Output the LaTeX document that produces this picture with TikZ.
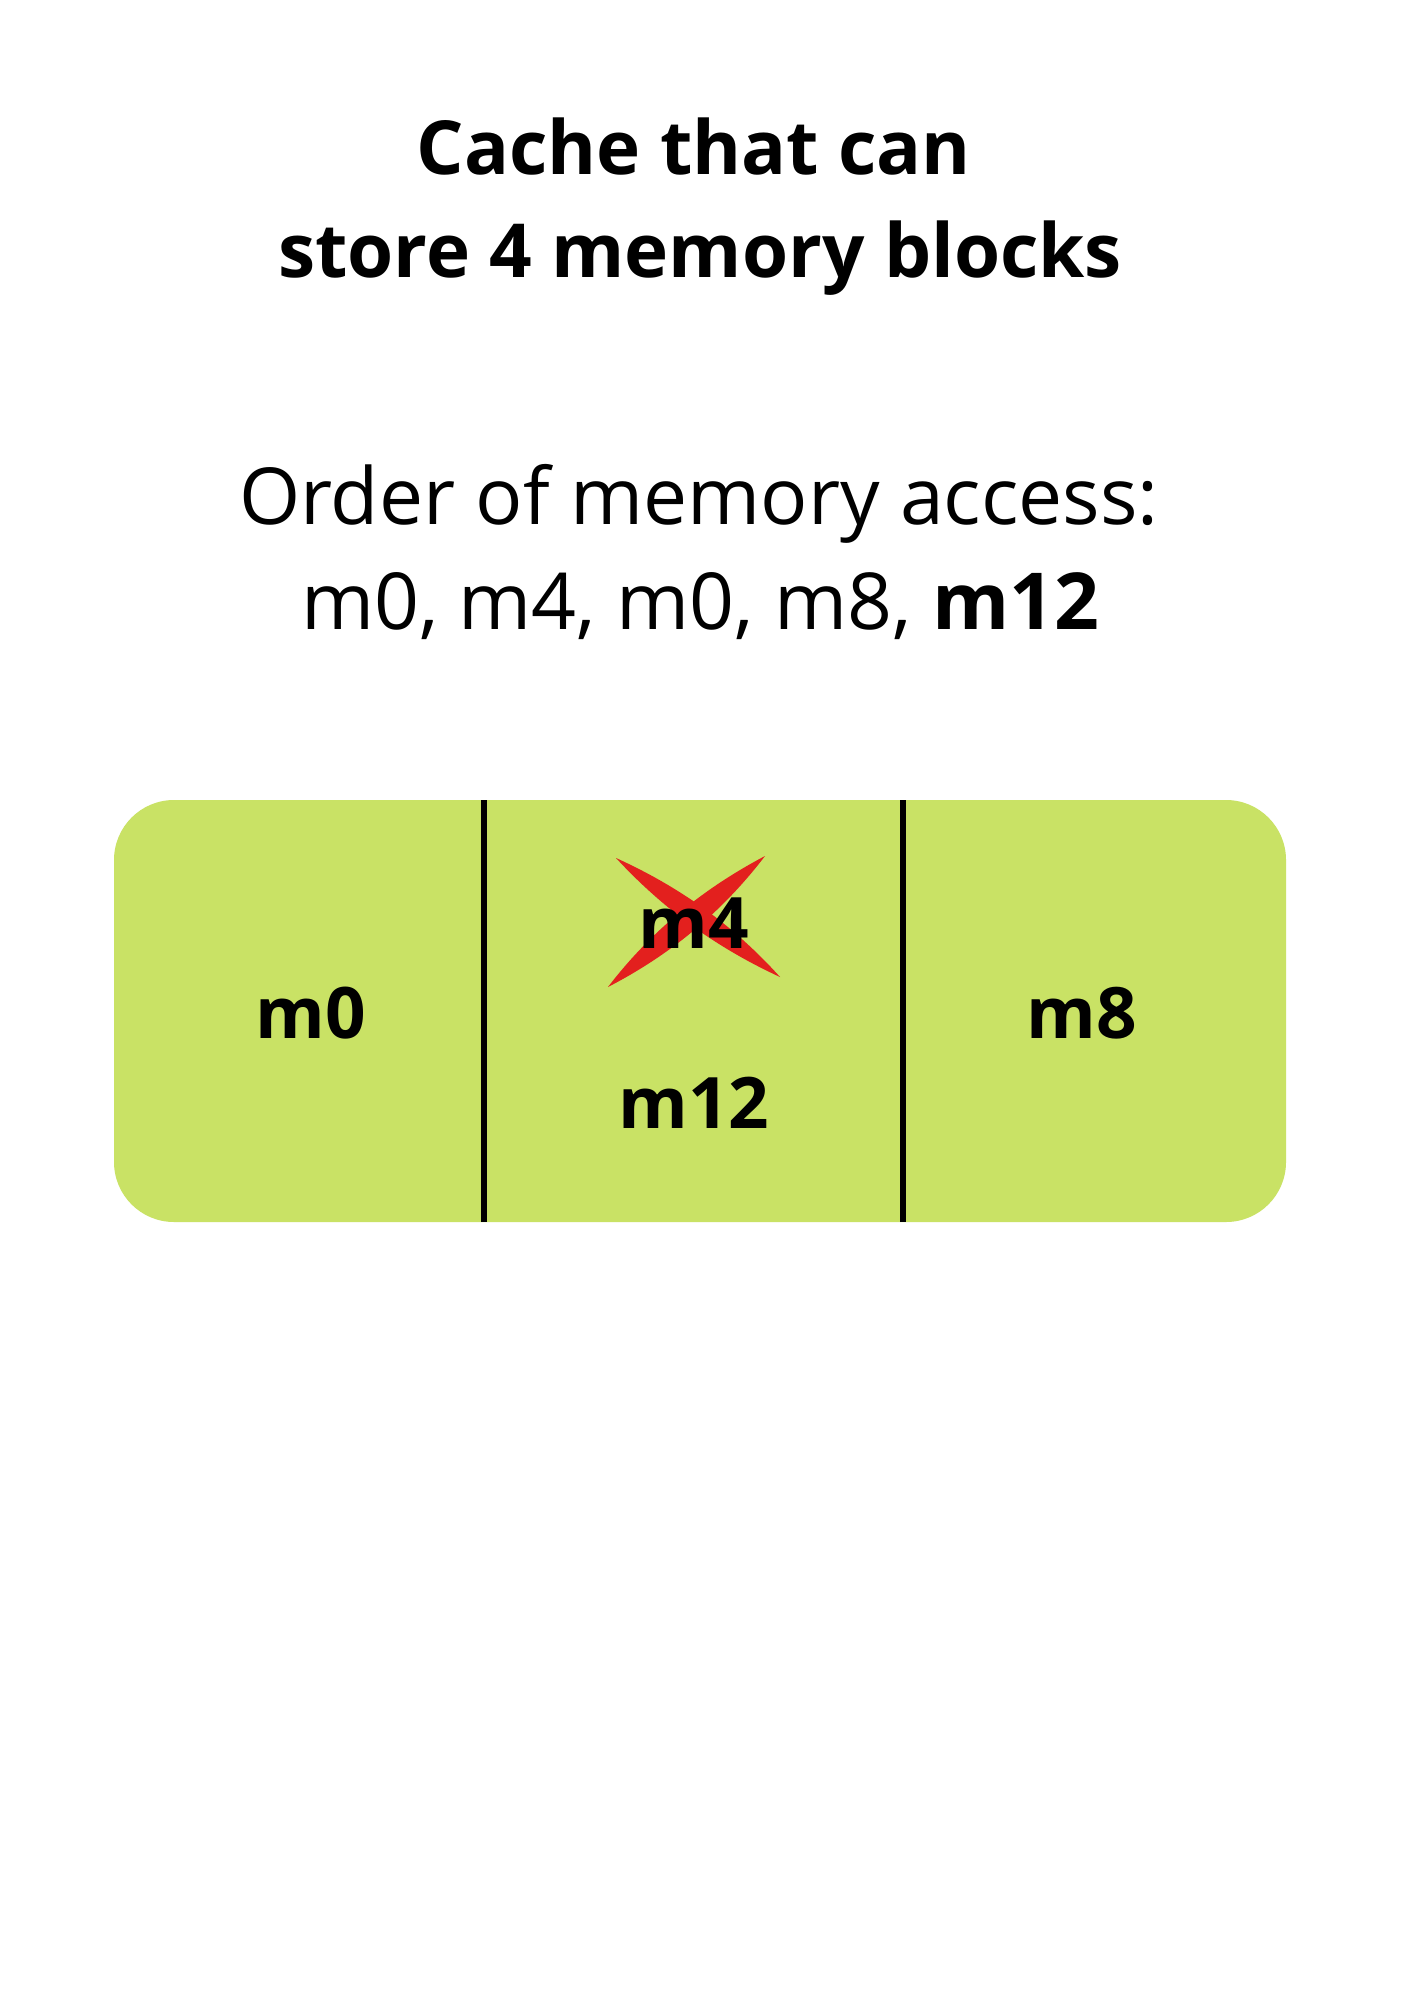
\documentclass[tikz,border=0pt]{standalone}
\usepackage{fontspec}
\setmainfont{Open Sans}
\definecolor{cachegreen}{HTML}{C9E265}
\definecolor{crossred}{HTML}{E3201E}
\begin{document}
\begin{tikzpicture}[x=0.5pt,y=-0.5pt,
  every node/.style={inner sep=0pt,outer sep=0pt},
  titletext/.style={anchor=base,font=\fontsize{37.3}{44}\selectfont\bfseries},
  bodytext/.style={anchor=base,font=\fontsize{39.3}{46}\selectfont},
  celltext/.style={anchor=base,font=\fontsize{35.5}{42}\selectfont\bfseries},
  divider/.style={draw=black,line width=2.6pt}]
\useasboundingbox[fill=white] (0,0) rectangle (1414,2000);
% titles
\node[titletext] (t1) at (694,175) {Cache that can};
\node[titletext] (t2) at (700,278) {store 4 memory blocks};
\node[bodytext] (b1) at (699,524) {Order of memory access:};
\node[bodytext] (b2) at (700,629) {m0, m4, m0, m8, \textbf{m12}};
% cache box
\fill[cachegreen,rounded corners=30pt] (114,800) rectangle (1286,1222);
\coordinate (d1t) at (484,800);
\coordinate (d1b) at (484,1222);
\coordinate (d2t) at (903,800);
\coordinate (d2b) at (903,1222);
\draw[divider] (d1t) -- (d1b);
\draw[divider] (d2t) -- (d2b);
% red cross strokes
\fill[crossred] (616,858) .. controls (663.4,909.3) and (716.8,947.8) .. (780,977)
  .. controls (733.8,925.7) and (680.4,887.2) .. cycle;
\fill[crossred] (765,856) .. controls (704.3,888.0) and (651.3,930.4) .. (608,987)
  .. controls (669.8,955.0) and (721.8,912.6) .. cycle;
% cell labels
\node[celltext] (m0) at (311,1038) {m0};
\node[celltext] (m4) at (694,948) {m4};
\node[celltext] (m12) at (694,1128) {m12};
\node[celltext] (m8) at (1082,1038) {m8};
\end{tikzpicture}
\end{document}
